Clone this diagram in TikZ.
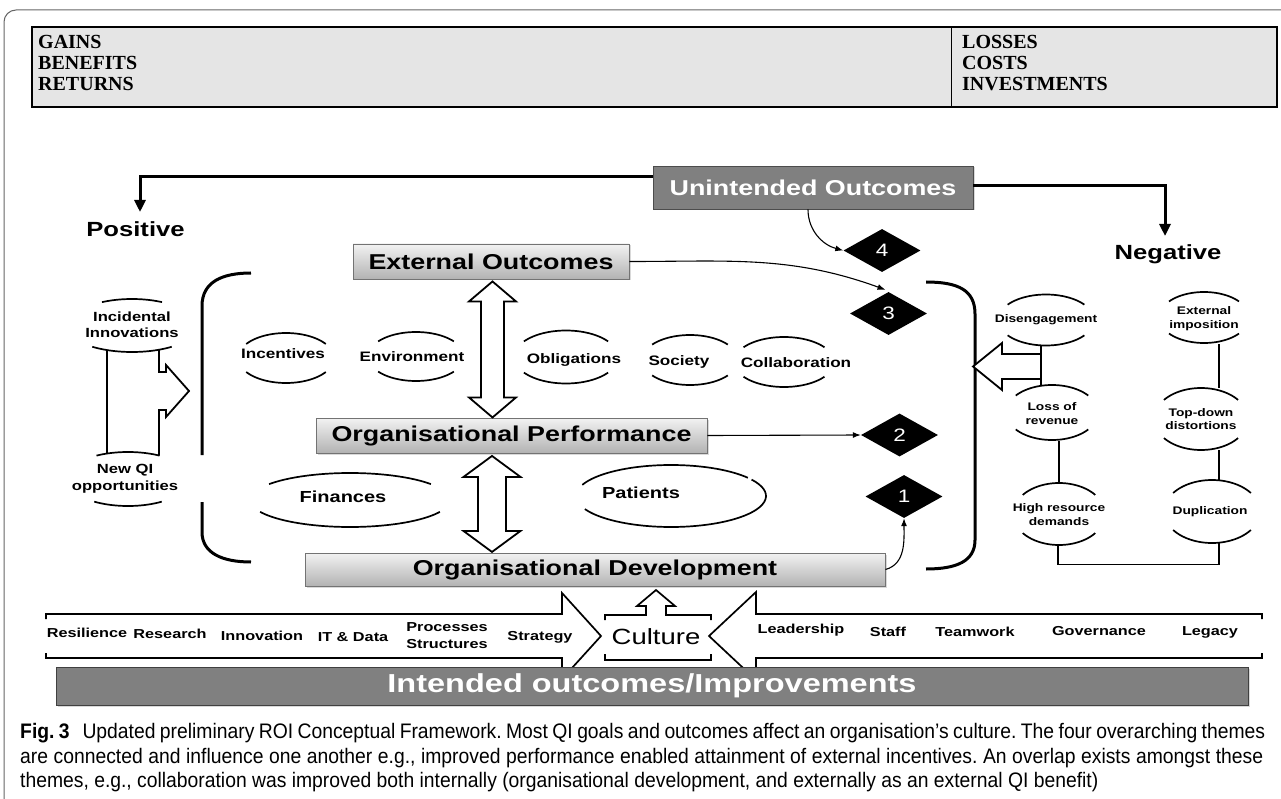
\documentclass[tikz,border=0pt]{standalone}
\usepackage{fontspec}
\setmainfont{Liberation Sans}
\newfontfamily\sfS[FakeStretch=1.25]{Liberation Sans}
\newfontfamily\serN{Liberation Serif}
\newfontfamily\capS[FakeStretch=0.92]{Liberation Sans}
\usetikzlibrary{shapes.geometric,arrows.meta,shadows}
\newcommand{\myfs}[2]{\fontsize{#1}{#2}\selectfont}
\newcommand{\earc}[6]{\draw[arcline] plot[domain=#5:#6,samples=40,smooth] ({#1+#3*cos(\x)},{#2-#4*sin(\x)});}
\newcommand{\lbl}[5]{\earc{#1}{#2}{#3}{#4}{#5}{180-#5}\earc{#1}{#2}{#3}{#4}{180+#5}{360-#5}}
\frenchspacing
\begin{document}
\begin{tikzpicture}[x=1pt,y=-1pt,
 thk/.style={line width=3pt,-{Triangle[length=12pt,width=11pt]}},
 thn/.style={line width=1.1pt,-{Latex[length=8pt,width=6pt]}},
 brk/.style={line width=3pt},
 band/.style={line width=1.7pt,line join=miter},
 hol/.style={draw=black,line width=1.8pt,fill=white,line join=miter},
 arcline/.style={line width=1.7pt},
 cline/.style={line width=1.3pt},
 gbox/.style={draw=black!55,line width=0.9pt,top color=black!5,bottom color=black!30,inner sep=0pt,font=\sfS\bfseries\myfs{21.5}{22},drop shadow={shadow xshift=1.5pt,shadow yshift=-1.5pt,opacity=0.3}},
 dbox/.style={draw=black!70,line width=0.9pt,fill=black!50,text=white,inner sep=0pt,drop shadow={shadow xshift=1.5pt,shadow yshift=-1.5pt,opacity=0.3}},
 dia/.style={diamond,fill=black,text=white,minimum width=77pt,minimum height=43pt,inner sep=0pt,font=\sfS\myfs{18}{18}},
 lab/.style={inner sep=0pt,align=center,font=\sfS\bfseries\myfs{13.7}{16}},
 nlab/.style={ellipse,inner sep=0pt,align=center,font=\sfS\bfseries\myfs{11}{13.5}},
 blab/.style={inner sep=0pt,align=center,font=\sfS\bfseries\myfs{13}{17}},
 ser/.style={inner sep=0pt,anchor=west,font=\serN\bfseries\myfs{20}{20}},
 capt/.style={inner sep=0pt,anchor=base west,font=\capS\myfs{21}{21}},
]
\useasboundingbox (0,0) rectangle (1281,799);
% outer frame
\draw[black!60,line width=1pt,rounded corners=12pt] (1290,10) -- (4,10) -- (4,812) -- (30,812);
% top table
\node[draw=black,line width=2.2pt,fill=black!10,minimum width=1245pt,minimum height=80pt,inner sep=0pt] (tab) at (654.5,67) {};
\draw[line width=1pt] (951,27) -- (951,107);
\node[ser] (g1) at (38,42) {GAINS};
\node[ser] (g2) at (38,63) {BENEFITS};
\node[ser] (g3) at (38,84) {RETURNS};
\node[ser] (l1) at (962,42) {LOSSES};
\node[ser] (l2) at (962,63) {COSTS};
\node[ser] (l3) at (962,84) {INVESTMENTS};

% unintended outcomes
\node[dbox,minimum width=320pt,minimum height=43pt,font=\sfS\bfseries\myfs{21.5}{22}] (un) at (813,187.5) {Unintended Outcomes};
\node[inner sep=0pt,font=\sfS\bfseries\myfs{20.5}{22}] (pos) at (135.5,229) {Positive};
\node[inner sep=0pt,font=\sfS\bfseries\myfs{20.5}{22}] (neg) at (1168,254.5) {Negative};
\coordinate (pl) at (140,212);
\coordinate (nr) at (1165,236);
\draw[thk] ([yshift=10.5pt]un.west) -| (pl);
\draw[thk] ([yshift=1.5pt]un.east) -| (nr);

% main boxes
\node[gbox,minimum width=276pt,minimum height=35pt] (ext) at (491,261.5) {External Outcomes};
\node[gbox,minimum width=391pt,minimum height=35pt] (perf) at (511.5,435.5) {Organisational Performance};
\node[gbox,minimum width=580pt,minimum height=33pt] (dev) at (595,569.5) {Organisational Development};

% diamonds
\node[dia] (d4) at (882,250.5) {4};
\node[dia] (d3) at (888.5,313.5) {3};
\node[dia] (d2) at (899.5,435) {2};
\node[dia] (d1) at (904,496.5) {1};

% thin connectors (angles are visual)
\draw[thn] ([xshift=-5pt]un.south) to[out=-90,in=165] (d4.west);
\draw[thn] (ext.east) to[out=0,in=160] ([xshift=-3pt,yshift=2pt]d3.north);
\draw[thn] (perf.east) -- (d2.west);
\draw[thn] (dev.east) to[out=15,in=-90] (d1.south);

% double hollow arrows
\draw[hol] ([xshift=1.5pt,yshift=-2pt]ext.south) -- ++(23.5,20) -- ++(-12,0) -- ++(0,96) -- ++(12,0) -- ++(-23.5,20) -- ++(-23.5,-20) -- ++(12,0) -- ++(0,-96) -- ++(-12,0) -- cycle;
\draw[hol] ([xshift=-19.5pt,yshift=-2.5pt]perf.south) -- ++(28.5,21) -- ++(-14.5,0) -- ++(0,54) -- ++(14.5,0) -- ++(-28.5,21) -- ++(-28.5,-21) -- ++(14.5,0) -- ++(0,-54) -- ++(-14.5,0) -- cycle;

% brackets
\draw[brk] (251,273) .. controls (222,273) and (202,282) .. (202,306) -- (202,455);
\draw[brk] (202,502) -- (202,532) .. controls (202,553) and (222,562) .. (251,562);
\draw[brk] (926,282) .. controls (958,282) and (975,290) .. (975,314) -- (975,540) .. controls (975,561) and (957,569) .. (926,569);

% positive side: incidental innovations / new QI
\node[lab,font=\sfS\bfseries\myfs{13.3}{16}] (inc) at (132,325) {Incidental\\Innovations};
\earc{132}{326}{64}{27}{62}{118}
\earc{132}{326}{66}{26}{233}{307}
\node[lab,font=\sfS\bfseries\myfs{13.3}{17}] (nqi) at (125,478.5) {New QI\\opportunities};
\earc{128}{479}{63}{27}{60}{120}
\earc{128}{479}{62}{27}{237}{303}
\draw[hol,fill=none] (107,350) -- (107,453.5);
\draw[hol,fill=none] (159,350) -- (159,372) -- (166,372) -- (166,365) -- (189,391) -- (166,417) -- (166,410) -- (159,410) -- (159,455.5);

% external themes
\node[lab] (incv) at (283,354) {Incentives};
\lbl{286}{358}{48}{25}{34}
\node[lab] (env) at (412,357) {Environment};
\lbl{416}{356.5}{48}{24.5}{38}
\node[lab] (obl) at (574,360) {Obligations};
\lbl{566}{357}{52}{26.5}{36}
\node[lab] (soc) at (679,362) {Society};
\lbl{690}{360}{48}{25}{38}
\node[lab] (col) at (796,363) {Collaboration};
\lbl{784}{362}{50}{25}{36}

% organisational themes
\node[lab,font=\sfS\bfseries\myfs{16}{18}] (fin) at (343,497) {Finances};
\earc{350}{500}{100}{27}{36}{144}
\earc{350}{500}{100}{27}{206}{334}
\node[lab,font=\sfS\bfseries\myfs{16}{18}] (pat) at (641,493) {Patients};
\earc{671}{496}{95}{31}{36}{159}
\earc{671}{496}{95}{31}{205}{392}

% negative side
\node[nlab,minimum width=96pt,minimum height=51pt] (dis) at (1046,320) {Disengagement};
\lbl{1046}{320}{48}{25.5}{37}
\node[nlab,minimum width=90pt,minimum height=51pt] (eimp) at (1204,318.5) {External\\imposition};
\lbl{1204}{317.5}{45}{25.5}{39}
\node[nlab,minimum width=92pt,minimum height=55pt] (loss) at (1052,413.5) {Loss of\\revenue};
\lbl{1052}{412.5}{46}{27.5}{38}
\node[nlab,minimum width=94pt,minimum height=62pt] (td) at (1201,419) {Top-down\\distortions};
\lbl{1201}{419}{47}{31}{38}
\node[nlab,minimum width=92pt,minimum height=62pt] (high) at (1059,514.5) {High resource\\demands};
\lbl{1059}{514}{46}{31}{38}
\node[nlab,minimum width=96pt,minimum height=63pt] (dup) at (1210,511.5) {Duplication};
\lbl{1212}{511.5}{48}{31.5}{36}

\draw[hol] (1041,354) -- (1002,354) -- (1002,343) -- (973,366.5) -- (1002,390) -- (1002,379) -- (1041,379);
\draw[line width=1.8pt] ([xshift=-5pt]dis.south) -- ([xshift=-11pt]loss.north);
\draw[cline] ([xshift=7pt]loss.south) -- (high.north);
\draw[cline] ([xshift=15pt]eimp.south) -- ([xshift=18pt]td.north);
\draw[cline] ([xshift=18pt]td.south) -- ([xshift=9pt]dup.north);
\draw[cline] ([xshift=-1pt]high.south) -- ++(0,18.5) -| ([xshift=9pt]dup.south);

% bottom band
\draw[band] (46,619) -- (46,614) -- (562,614) -- (562,593) -- (601,636) -- (562,679) -- (562,658) -- (46,658) -- (46,653);
\draw[band] (1262,619) -- (1262,614) -- (756,614) -- (756,592) -- (709,636) -- (756,680) -- (756,658) -- (1262,658) -- (1262,653);
\draw[band] (605,620) -- (605,615) -- (646,615) -- (646,606) -- (637,606) -- (656,590) -- (675,606) -- (666,606) -- (666,615) -- (711,615) -- (711,620);
\draw[band] (605,654) -- (605,660) -- (711,660) -- (711,654);
\node[inner sep=0pt,font=\sfS\myfs{22}{22}] (cul) at (656,637) {Culture};
\node[blab] (b1) at (87,633) {Resilience};
\node[blab] (b2) at (170,634) {Research};
\node[blab] (b3) at (262,636) {Innovation};
\node[blab] (b4) at (353,637) {IT \& Data};
\node[blab] (b5) at (447,635.5) {Processes\\Structures};
\node[blab] (b6) at (540,637) {Strategy};
\node[blab] (b7) at (801,630) {Leadership};
\node[blab] (b8) at (888,632) {Staff};
\node[blab] (b9) at (975,632) {Teamwork};
\node[blab] (b10) at (1099,631) {Governance};
\node[blab] (b11) at (1210,632) {Legacy};

\node[dbox,draw=black!75,minimum width=1192pt,minimum height=38pt,font=\sfS\bfseries\myfs{26}{28}] (int) at (652,686) {Intended outcomes/Improvements};

% caption
\node[capt] (cap1) at (20,738) {\makebox[1245pt][s]{\textbf{Fig. 3}\hspace{0.4em} Updated preliminary ROI Conceptual Framework. Most QI goals and outcomes affect an organisation’s culture. The four overarching themes}};
\node[capt] (cap2) at (20,763) {\makebox[1243pt][s]{are connected and influence one another e.g., improved performance enabled attainment of external incentives. An overlap exists amongst these}};
\node[capt] (cap3) at (20,787) {themes, e.g., collaboration was improved both internally (organisational development, and externally as an external QI benefit)};
\end{tikzpicture}
\end{document}
